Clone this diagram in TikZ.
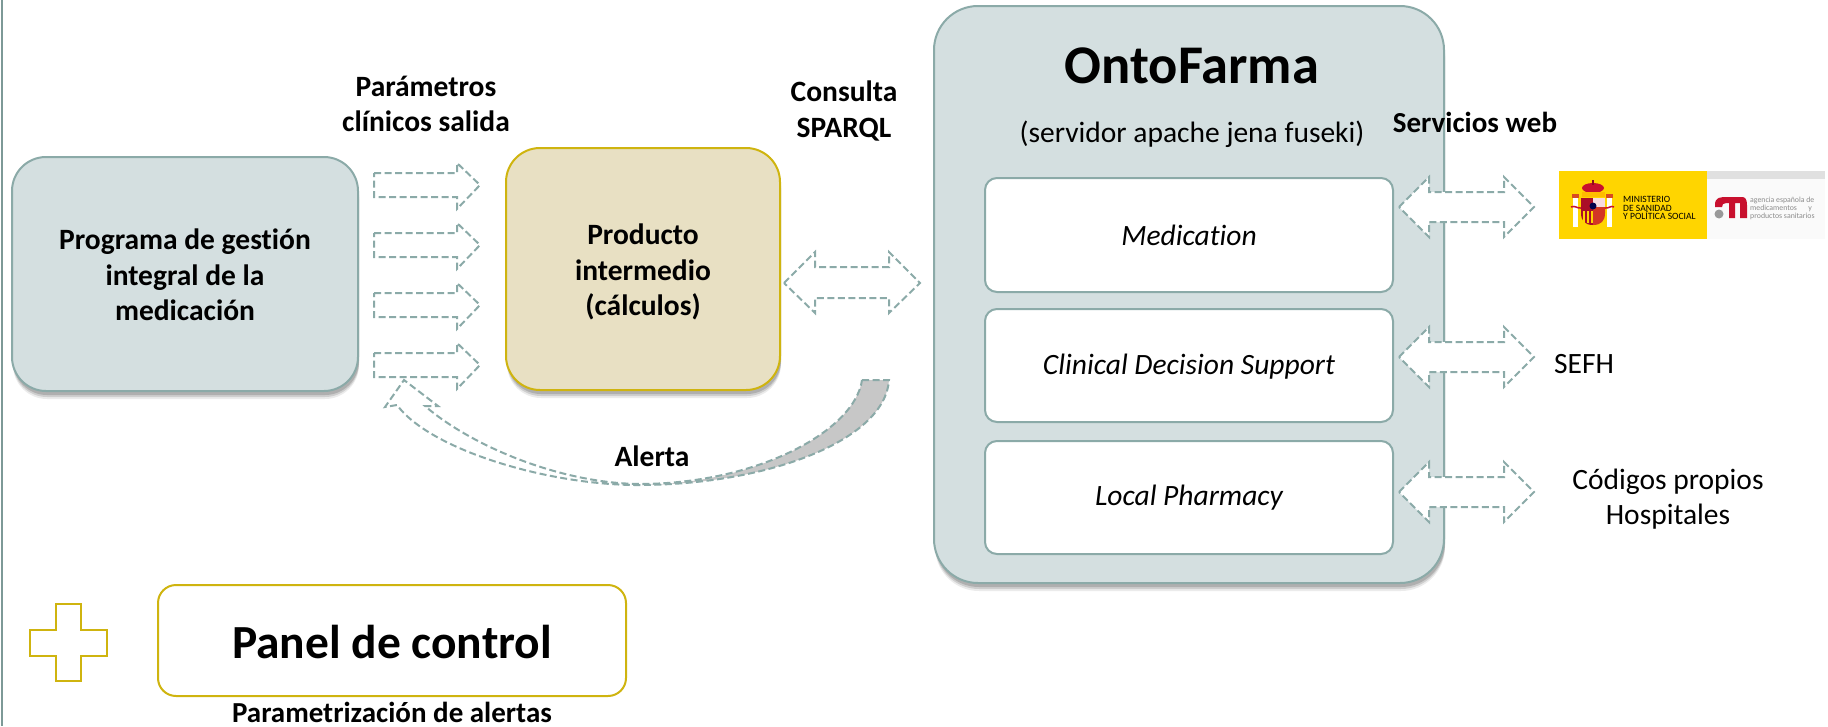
\documentclass[tikz,border=0pt]{standalone}
\usepackage{fontspec}
\setmainfont[Ligatures=CommonOff]{Carlito}
\usetikzlibrary{shadows}
\definecolor{boxgray}{HTML}{D4DFE0}
\definecolor{edgegray}{HTML}{8BAAA8}
\definecolor{boxsand}{HTML}{E8E0C3}
\definecolor{edgegold}{HTML}{CFB40F}
\definecolor{logoyellow}{HTML}{FFD500}
\definecolor{logored}{HTML}{C8102E}
\tikzset{
  softshadow/.style={
    drop shadow={shadow xshift=1pt,shadow yshift=-8pt,opacity=.08,fill=black},
    drop shadow={shadow xshift=1pt,shadow yshift=-6pt,opacity=.12,fill=black},
    drop shadow={shadow xshift=1pt,shadow yshift=-4pt,opacity=.15,fill=black}},
  mainbox/.style={draw=edgegray,line width=2pt,fill=boxgray,rounded corners=34pt,softshadow},
  goldbox/.style={draw=edgegold,line width=2pt,fill=boxsand,rounded corners=34pt,softshadow},
  innerbox/.style={draw=edgegray,line width=2pt,fill=white,rounded corners=12pt},
  blockarrow/.style={draw=edgegray,line width=2pt,dash pattern=on 7pt off 3.5pt,fill=white},
  boldtext/.style={font=\fontsize{29.5}{35.5}\selectfont\bfseries,align=center},
  plaintext/.style={font=\fontsize{29.5}{35.5}\selectfont,align=center},
  italictext/.style={font=\fontsize{29.5}{35.5}\selectfont\itshape,align=center},
  logotext/.style={font=\fontsize{9.6}{8.6}\selectfont,align=left,inner sep=0pt,anchor=west}
}
\begin{document}
\begin{tikzpicture}[x=1pt,y=-1pt]
   \useasboundingbox (0,0) rectangle (1828,726);
   \draw[color=edgegray!90!black,line width=2.5pt] (2,0) -- (2,726);

   % boxes
   \draw[mainbox] (12,157) rectangle (358,391);
   \draw[goldbox] (506,148) rectangle (780,390);
   \draw[mainbox,rounded corners=44pt] (934,6) rectangle (1444,583);
   \draw[innerbox] (985,178) rectangle (1393,292);
   \draw[innerbox] (985,309) rectangle (1393,422);
   \draw[innerbox] (985,441) rectangle (1393,554);
   \draw[edgegold,line width=2pt,fill=white,rounded corners=18pt] (158,585) rectangle (626,696);
   \draw[edgegold,line width=2pt] (56,604) -- (81,604) -- (81,630) -- (107,630) -- (107,656)
      -- (81,656) -- (81,681) -- (56,681) -- (56,656) -- (30,656) -- (30,630) -- (56,630) -- cycle;

   % arrows parametros
   \foreach \y in {185,245,305,365} {
   \begin{scope}[shift={(0,\y)}]
      \draw[blockarrow] (374,-12) -- (457,-12) -- (457,-22) -- (480,0) -- (457,24)
      -- (457,12) -- (374,12) -- cycle;
   \end{scope}
   }

   % double arrows
   \draw[blockarrow] (784,283) -- (815,252) -- (815,267) -- (889,267) -- (889,252) -- (920,283)
      -- (889,313) -- (889,298) -- (815,298) -- (815,313) -- cycle;
   \foreach \y in {207,357,492} {
   \begin{scope}[shift={(0,\y)}]
      \draw[blockarrow] (1399,0) -- (1429,-30) -- (1429,-15) -- (1504,-15) -- (1504,-30) -- (1534,0)
      -- (1504,30) -- (1504,15) -- (1429,15) -- (1429,30) -- cycle;
   \end{scope}
   }

   % alerta
   \fill[color=black!22] (889,380) .. controls (885,440) and (770,484) .. (642,485)
      .. controls (760,483) and (855,430) .. (862,380) -- cycle;
   \draw[blockarrow,fill=none] (862,380) -- (889,380) .. controls (885,440) and (770,484) .. (642,485)
      .. controls (550,486) and (430,450) .. (397,405) -- (385,407) -- (404,380) -- (438,406)
      -- (425,406) .. controls (470,445) and (560,484) .. (642,484)
      .. controls (760,483) and (855,430) .. (862,380);

   % textos
   \node[boldtext] (programa) at (185,275) {Programa de gestión\\integral de la\\medicación};
   \node[boldtext] (producto) at (643,272) {Producto\\intermedio\\(cálculos)};
   \node[boldtext] (parametros) at (426,104) {Parámetros\\clínicos salida};
   \node[boldtext] (consulta) at (844,111) {Consulta\\SPARQL};
   \node[boldtext] (alerta) at (652,456) {Alerta};
   \node[boldtext,font=\fontsize{29}{35}\selectfont\bfseries] (servicios) at (1475,122) {Servicios web};
   \node[font=\fontsize{54.5}{58}\selectfont\bfseries] (titulo) at (1192,66) {OntoFarma};
   \node[font=\fontsize{29.5}{35}\selectfont] (servidor) at (1192,134) {(servidor apache jena fuseki)};
   \node[italictext] (medication) at (1189,235) {Medication};
   \node[italictext] (clinical) at (1189,367) {Clinical Decision Support};
   \node[italictext] (local) at (1189,498) {Local Pharmacy};
   \node[plaintext] (sefh) at (1584,364) {SEFH};
   \node[plaintext] (codigos) at (1668,499) {Códigos propios\\Hospitales};
   \node[font=\fontsize{47.5}{50}\selectfont\bfseries] (panel) at (392,642) {Panel de control};
   \node[boldtext,font=\fontsize{29}{35}\selectfont\bfseries,inner sep=0pt] (parametrizacion) at (392,712) {Parametrización de alertas};

   % logo
   \fill[color=logoyellow] (1559,171) rectangle (1707,239);
   \fill[color=black!2] (1707,171) rectangle (1825,239);
   \fill[color=black!12] (1707,171) rectangle (1825,179);
   \begin{scope}[shift={(1593,205)}]
      % columnas
      \fill[color=white] (-20,-9) rectangle (-15,22);
      \fill[color=white] (14,-9) rectangle (19,22);
      \fill[color=logored!70!logoyellow] (-21,-11) rectangle (-14,-7);
      \fill[color=logored!70!logoyellow] (13,-11) rectangle (20,-7);
      % corona
      \fill[color=logored] (0,-17) ellipse(11 and 5);
      \fill[color=logoyellow!70!orange] (-11,-13) rectangle (12,-8);
      \fill[color=logored!70!black] (-1,-25) rectangle (1,-20);
      % escudo
      \fill[color=logored!85!black] (-12,-7) -- (0,-7) -- (0,20) .. controls (-8,20) and (-12,16) .. (-12,8) -- cycle;
      \fill[color=logored!80!logoyellow] (0,2) -- (12,2) -- (12,8) .. controls (12,16) and (8,20) .. (0,20) -- cycle;
      \fill[color=white!85!logored] (0,-7) rectangle (12,2);
      \foreach \x in {-10,-6,-2}
         \fill[color=logoyellow] (\x,6) rectangle (\x+1.6,18);
      \fill[color=black!70!blue] (0,1) circle(3.5);
      % cintas
      \draw[color=logored,line width=1.5pt] (-22,2) .. controls (-18,0) and (-15,4) .. (-12,3);
      \draw[color=logored,line width=1.5pt] (21,2) .. controls (18,0) and (15,4) .. (12,3);
   \end{scope}
   \node[logotext] (ministerio) at (1623,208) {MINISTERIO\\DE SANIDAD\\Y POLÍTICA SOCIAL};
   \fill[color=logored] (1715,207) -- (1715,205) .. controls (1715,197) and (1720,197) .. (1728,197)
      -- (1742,197) .. controls (1745,197) and (1747,199) .. (1747,205) -- (1747,218) -- (1740,218) -- (1740,203)
      -- (1735,203) -- (1735,218) -- (1729,218) -- (1729,203) .. controls (1722,203) and (1722,205) .. (1722,207) -- cycle;
   \fill[color=black!40] (1719,214) circle(4.5);
   \node[logotext,text=black!45,font=\fontsize{7.8}{8}\selectfont] (agencia) at (1750,208) {agencia española de\\medicamentos\quad\ \ y\\productos sanitarios};
 \end{tikzpicture}
\end{document}
